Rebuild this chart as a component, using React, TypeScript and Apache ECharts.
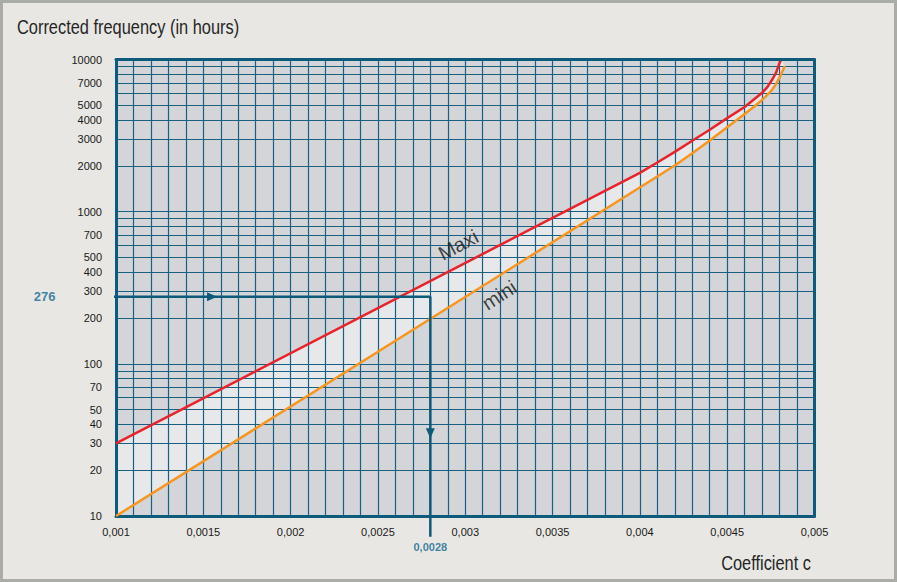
import React, { useEffect, useRef } from 'react';
import * as echarts from 'echarts';

// ---- data ----
const xTickLabels = [0.001, 0.0015, 0.002, 0.0025, 0.003, 0.0035, 0.004, 0.0045, 0.005];
const xGridValues = Array.from({ length: 41 }, (_, i) => (10 + i) / 10000);
const yTickLabels = [10, 20, 30, 40, 50, 70, 100, 200, 300, 400, 500, 700, 1000, 2000, 3000, 4000, 5000, 7000, 10000];
const yGridValues = [
  10, 20, 30, 40, 50, 60, 70, 80, 90,
  100, 200, 300, 400, 500, 600, 700, 800, 900,
  1000, 2000, 3000, 4000, 5000, 6000, 7000, 8000, 9000, 10000,
];

const maxiX = [0.001, 0.004, 0.0041, 0.0042, 0.0043, 0.0044, 0.0045, 0.0046, 0.0047, 0.00473, 0.00476, 0.00478, 0.0048, 0.00481];
const maxiY = [30, 1800, 2105, 2470, 2924, 3453, 4117, 4874, 6040, 6590, 7444, 8200, 9500, 10000];
const miniX = [0.001, 0.0042, 0.0043, 0.0044, 0.0045, 0.0046, 0.00465, 0.0047, 0.00475, 0.00478, 0.0048, 0.00483];
const miniY = [10, 2010, 2421, 2940, 3590, 4390, 4853, 5420, 6170, 6912, 7603, 9070];

const refValue = 276;
const refCoef = 0.0028;
const refLineX = [0.000685, refCoef, refCoef];
const refLineY = [refValue, refValue, 7.3];
const arrowX = [0.00155, refCoef];
const arrowY = [refValue, 35];
const arrowRot = [-90, 180];

const curveLabels = [
  { name: 'Maxi', x: 0.00296, y: 604, rotate: 28 },
  { name: 'mini', x: 0.003195, y: 283, rotate: 33 },
];

const TEAL = '#0d5a7b';
const GRIDC = '#1a6082';
const SANS = "'Liberation Sans', Arial, sans-serif";

const fmtX = (v: number) => String(parseFloat(Number(v).toFixed(5))).replace('.', ',');

export default function App() {
  const ref = useRef<HTMLDivElement>(null);
  useEffect(() => {
    if (!ref.current) return;
    const chart = echarts.init(ref.current, null, { renderer: 'svg' });
    const maxi = maxiX.map((x, i) => [x, maxiY[i]]);
    const mini = miniX.map((x, i) => [x, miniY[i]]);
    const refLine = refLineX.map((x, i) => [x, refLineY[i]]);

    chart.setOption({
      animation: false,
      backgroundColor: '#e8e7e3',
      grid: {
        left: 116, top: 59.5, right: 82.5, bottom: 66,
        show: true, backgroundColor: '#d3d5d8', borderWidth: 0,
      },
      xAxis: [
        {
          type: 'value', min: 0.001, max: 0.005, z: 3,
          axisLine: { show: true, lineStyle: { color: TEAL, width: 3 } },
          axisTick: { show: false, customValues: xGridValues },
          axisLabel: {
            customValues: xTickLabels, formatter: fmtX, margin: 10,
            fontSize: 11, color: '#1a1a1a', fontFamily: SANS,
          },
          splitLine: { show: true, lineStyle: { color: GRIDC, width: 1.2 } },
        },
        {
          type: 'value', min: 0.001, max: 0.005, position: 'top', z: 5,
          axisLine: { show: true, lineStyle: { color: TEAL, width: 3 } },
          axisTick: { show: false }, axisLabel: { show: false }, splitLine: { show: false },
        },
      ],
      yAxis: [
        {
          type: 'log', logBase: 10, min: 10, max: 10000, z: 3,
          axisLine: { show: true, lineStyle: { color: TEAL, width: 3 } },
          axisTick: { show: false, customValues: yGridValues },
          axisLabel: {
            customValues: yTickLabels, margin: 14,
            fontSize: 11, color: '#1a1a1a', fontFamily: SANS,
            formatter: (v: number) => String(Math.round(v)),
          },
          splitLine: { show: true, lineStyle: { color: GRIDC, width: 1.2 } },
        },
        {
          type: 'log', logBase: 10, min: 10, max: 10000, position: 'right', z: 5,
          axisLine: { show: true, lineStyle: { color: TEAL, width: 3 } },
          axisTick: { show: false }, axisLabel: { show: false }, splitLine: { show: false },
        },
      ],
      series: [
        {
          type: 'custom', z: 1, silent: true,
          data: [[0.003, 100]],
          renderItem: (_p: any, api: any) => {
            const pts = maxi.map((p) => api.coord(p)).concat(
              mini.slice().reverse().map((p) => api.coord(p))
            );
            return { type: 'polygon', shape: { points: pts }, style: { fill: '#e7e8ea' } };
          },
        },
        {
          name: 'Maxi', type: 'line', z: 4, data: maxi, symbol: 'none',
          lineStyle: { color: '#e8232c', width: 2.5 },
        },
        {
          name: 'mini', type: 'line', z: 4, data: mini, symbol: 'none',
          lineStyle: { color: '#f7951e', width: 2.5 },
        },
        {
          type: 'line', z: 6, data: refLine, symbol: 'none', clip: false,
          lineStyle: { color: TEAL, width: 2.5 },
        },
        {
          type: 'scatter', z: 6, clip: false, symbol: 'triangle', symbolSize: [9, 10],
          itemStyle: { color: TEAL, opacity: 1 },
          data: arrowX.map((x, i) => ({ value: [x, arrowY[i]], symbolRotate: arrowRot[i] })),
        },
        {
          type: 'scatter', z: 7, clip: false, symbolSize: 1,
          itemStyle: { color: 'rgba(0,0,0,0)' },
          data: [
            {
              value: [refLineX[0], refLineY[0]],
              label: {
                show: true, position: 'left', distance: 5, formatter: String(refValue),
                fontSize: 13, fontWeight: 'bold', color: '#126890', fontFamily: SANS,
              },
            },
            {
              value: [refLineX[2], refLineY[2]],
              label: {
                show: true, position: 'bottom', distance: 4, formatter: fmtX(refCoef),
                fontSize: 11, fontWeight: 'bold', color: '#126890', fontFamily: SANS,
              },
            },
          ],
        },
        {
          type: 'scatter', z: 7, symbolSize: 1,
          itemStyle: { color: 'rgba(0,0,0,0)' },
          data: curveLabels.map((c) => ({
            value: [c.x, c.y],
            label: {
              show: true, position: 'inside', formatter: c.name, rotate: c.rotate,
              fontSize: 20, color: '#151515', fontFamily: SANS,
            },
          })),
        },
      ],
      graphic: [
        {
          type: 'rect', z: 100, silent: true,
          shape: { x: 1.5, y: 1.5, width: 894, height: 579 },
          style: { fill: 'none', stroke: '#aaaca8', lineWidth: 3 },
        },
        {
          type: 'text', x: 17, y: 27, scaleX: 0.82,
          style: {
            text: 'Corrected frequency (in hours)', fontSize: 20, fontFamily: SANS,
            fill: '#262626', verticalAlign: 'middle', align: 'left',
          },
        },
        {
          type: 'text', x: 811, y: 563, scaleX: 0.82,
          style: {
            text: 'Coefficient c', fontSize: 20, fontFamily: SANS,
            fill: '#262626', verticalAlign: 'middle', align: 'right',
          },
        },
      ],
    });
    return () => chart.dispose();
  }, []);
  return (
    <div
      ref={ref}
      style={{ position: 'fixed', left: 0, top: 0, width: 897, height: 582 }}
    />
  );
}
